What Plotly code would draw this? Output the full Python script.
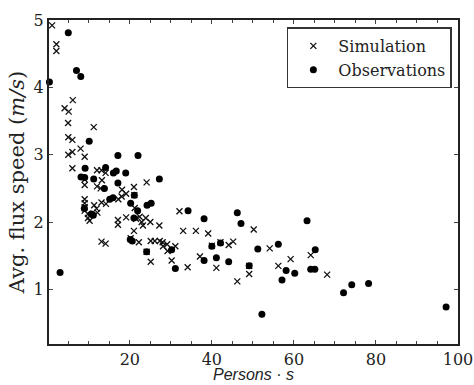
import plotly.graph_objects as go

# Simulation (x markers)
sim_x = [1.05, 2.1, 2.1, 6.1, 4.1, 5.1, 4.95, 11.2, 5.0, 6.0, 8.0, 5.0, 6.0, 9.0, 6.0,
         9.0, 9.0, 12.0, 13.1, 14.1, 13.2, 12.0, 12.9, 18.1, 19.1, 21.0, 24.1, 18.0, 17.2,
         9.0, 9.0, 9.0, 9.0, 9.8, 9.8, 10.2, 11.3, 11.9, 12.1, 13.1, 14.2, 21.1, 21.2,
         17.1, 17.1, 19.1, 21.5, 22.4, 22.9, 23.2, 23.9, 25.0, 27.2, 32.1, 21.0, 33.0,
         36.1, 39.1, 13.1, 14.1, 20.2, 22.2, 25.1, 26.1, 27.3, 28.0, 29.1, 28.1, 29.2,
         31.1, 24.1, 25.1, 30.2, 34.1, 37.1, 40.0, 42.1, 44.1, 45.2, 41.1, 46.2, 49.1,
         49.1, 50.2, 54.1, 56.2, 59.2, 64.1, 68.1]
sim_y = [4.92, 4.64, 4.54, 3.81, 3.69, 3.64, 3.47, 3.41, 3.26, 3.22, 3.09, 3.00, 3.04, 2.97, 2.80,
         2.63, 2.55, 2.77, 2.77, 2.73, 2.62, 2.53, 2.50, 2.48, 2.42, 2.52, 2.59, 2.38, 2.34,
         2.34, 2.28, 2.22, 2.17, 2.12, 2.06, 2.02, 2.25, 2.20, 2.14, 2.29, 2.27, 2.40, 2.21,
         2.03, 1.96, 2.07, 2.05, 2.08, 2.00, 1.95, 2.06, 2.00, 1.95, 2.16, 1.87, 1.87,
         1.87, 1.83, 1.71, 1.68, 1.76, 1.70, 1.72, 1.72, 1.72, 1.70, 1.67, 1.64, 1.57,
         1.64, 1.56, 1.41, 1.43, 1.33, 1.49, 1.65, 1.70, 1.66, 1.71, 1.32, 1.12, 1.35,
         1.23, 1.89, 1.61, 1.35, 1.45, 1.51, 1.22]

# Observations (dots)
obs_x = [0.4, 5.0, 7.0, 8.05, 10.1, 17.1, 22.0, 9.1, 14.1, 8.1, 9.0, 11.2, 16.0, 16.7, 19.0,
         27.2, 17.1, 13.8, 21.1, 15.9, 15.1, 8.9, 10.6, 11.1, 20.2, 24.2, 25.2, 21.9, 21.0,
         34.2, 20.1, 20.6, 24.1, 30.2, 31.1, 3.0, 38.1, 46.2, 47.1, 40.0, 42.1, 38.1, 41.1,
         44.1, 49.1, 51.2, 56.2, 58.1, 60.2, 57.1, 52.2, 63.2, 65.2, 64.1, 65.1, 72.1, 74.1,
         78.2, 97.1]
obs_y = [4.08, 4.81, 4.25, 4.16, 3.20, 2.99, 2.99, 2.80, 2.81, 2.67, 2.66, 2.64, 2.73, 2.76, 2.73,
         2.64, 2.58, 2.50, 2.40, 2.36, 2.34, 2.20, 2.12, 2.10, 2.28, 2.25, 2.28, 2.17, 2.06,
         2.17, 1.74, 1.72, 1.56, 1.59, 1.31, 1.25, 2.05, 2.14, 1.98, 1.64, 1.69, 1.43, 1.47,
         1.41, 1.35, 1.60, 1.67, 1.28, 1.24, 1.14, 0.63, 2.02, 1.59, 1.30, 1.30, 0.95, 1.07,
         1.09, 0.74]

x_ticks = [20, 40, 60, 80, 100]
y_ticks = [1, 2, 3, 4, 5]
x_title = "<i>Persons · s</i>"
y_title = "Avg. flux speed (<i>m/s</i>)"

fig = go.Figure()
fig.add_trace(go.Scatter(
    x=sim_x, y=sim_y, mode="markers", name="Simulation",
    marker=dict(symbol="x-thin", size=6, line=dict(width=1.3, color="#111111"), color="#111111"),
    cliponaxis=False,
))
fig.add_trace(go.Scatter(
    x=obs_x, y=obs_y, mode="markers", name="Observations",
    marker=dict(symbol="circle", size=7, color="#000000", line=dict(width=0)),
    cliponaxis=False,
))

axis_common = dict(
    showline=True, linecolor="#222222", linewidth=2, mirror="allticks",
    ticks="inside", ticklen=4, tickcolor="#444444", tickwidth=1,
    showgrid=False, zeroline=False,
    tickfont=dict(family="DejaVu Serif", size=16, color="#222222"),
    ticklabeloverflow="allow", automargin=False,
)

fig.update_layout(
    width=474, height=385,
    margin=dict(l=49, r=16, t=20, b=41, autoexpand=False),
    paper_bgcolor="white", plot_bgcolor="white",
    showlegend=True,
    legend=dict(
        x=0.985, y=0.977, xanchor="right", yanchor="top",
        bgcolor="white", bordercolor="#333333", borderwidth=1.5,
        font=dict(family="DejaVu Serif", size=16, color="#222222"),
        itemwidth=40, tracegroupgap=0,
    ),
    xaxis=dict(
        range=[0.3, 100], tickvals=x_ticks,
        minor=dict(ticks="inside", dtick=5, ticklen=3, tickcolor="#444444"),
        ticklabelstandoff=0,
        **axis_common,
    ),
    yaxis=dict(
        range=[0.19, 5.0], tickvals=y_ticks,
        title=dict(text=y_title, font=dict(family="DejaVu Serif", size=21, color="#222222"), standoff=3),
        **axis_common,
    ),
    annotations=[dict(
        text=x_title, xref="paper", yref="paper", x=0.5, y=0, xanchor="center", yanchor="top",
        yshift=-21, showarrow=False, borderpad=0,
        font=dict(family="Liberation Sans", size=16, color="#222222"),
    )],
)

fig.write_html("out.html")
